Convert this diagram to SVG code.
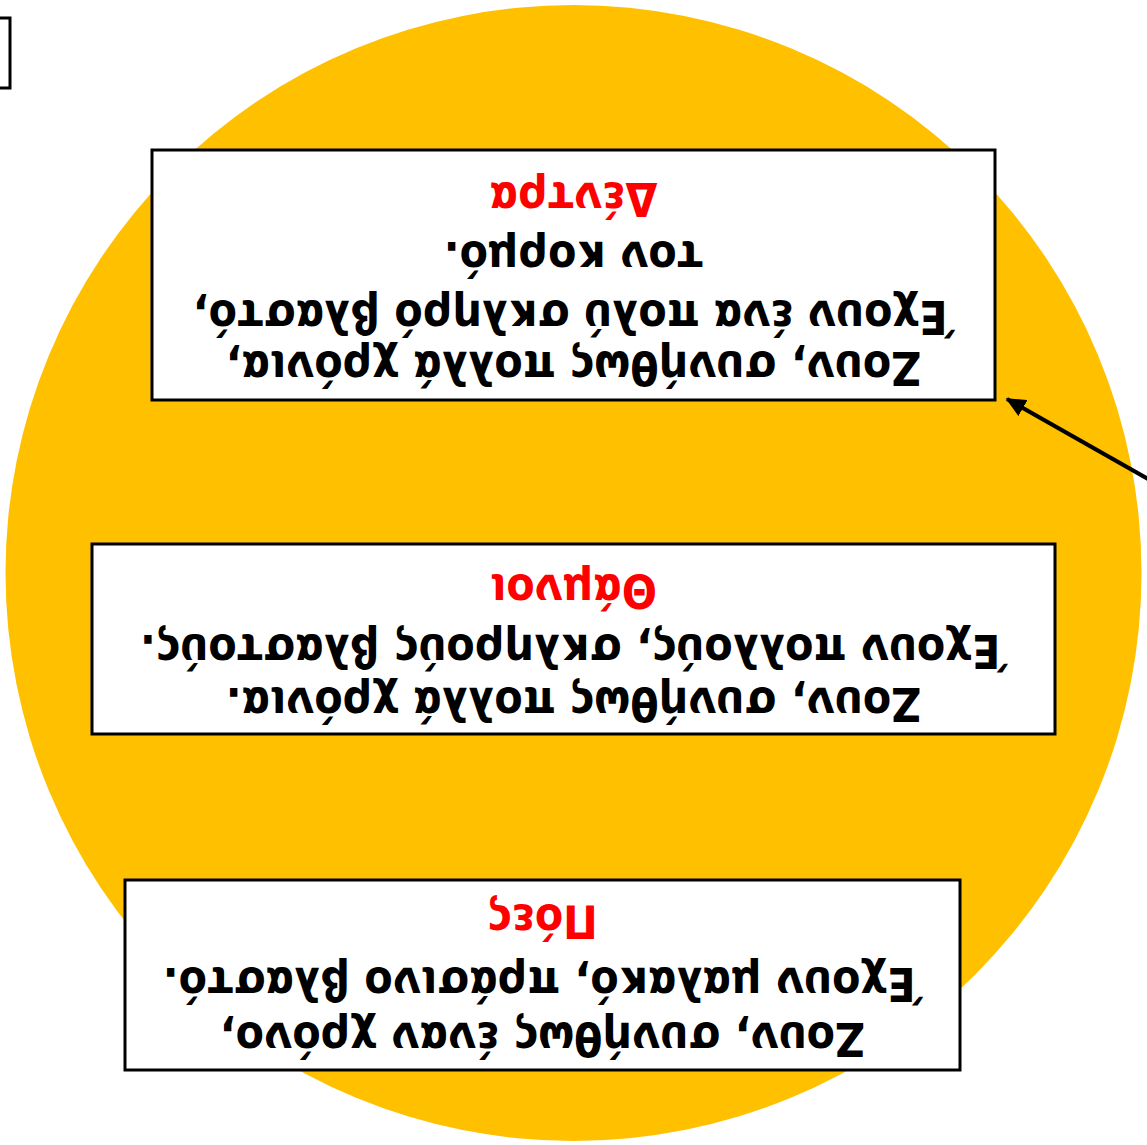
<svg xmlns="http://www.w3.org/2000/svg" width="1147" height="1145" viewBox="0 0 1147 1145">
<style>
.box{fill:#fff;stroke:#000;stroke-width:3}
.t{font-family:"DejaVu Sans Condensed","DejaVu Sans","Noto Sans",sans-serif;font-stretch:condensed;font-weight:bold;font-size:46px;text-anchor:middle;fill:#000}
.h{fill:#FF0000}
.conn{stroke:#000;stroke-width:4;fill:none}
</style>
<defs>
<marker id="ah" markerWidth="5" markerHeight="4.6" refX="4.6" refY="2.3" orient="auto" markerUnits="strokeWidth">
<path d="M0,0 L5,2.3 L0,4.6 Z" fill="#000"/>
</marker>
</defs>
<rect width="1147" height="1145" fill="#fff"/>
<g transform="rotate(180 573.5 572.5)">
<g id="background">
<circle cx="573.5" cy="572" r="568" fill="#FFC000"/>
</g>
<g id="corner-box">
<rect x="1137" y="1057" width="60" height="70" class="box"/>
</g>
<g id="connectors">
<line x1="-10" y1="661" x2="140" y2="746" class="conn" marker-end="url(#ah)"/>
</g>
<g id="node-trees">
<rect x="152" y="745" width="843" height="250" class="box"/>
<text class="t" x="573.5" y="793">Ζουν, συνήθως πολλά χρόνια,</text>
<text class="t" x="573.5" y="844">Έχουν ένα πολύ σκληρό βλαστό,</text>
<text class="t" x="573.5" y="903">τον κορμό.</text>
<text class="t h" x="573.5" y="962">Δέντρα</text>
</g>
<g id="node-shrubs">
<rect x="92" y="411" width="963" height="190" class="box"/>
<text class="t" x="573.5" y="457">Ζουν, συνήθως πολλά χρόνια.</text>
<text class="t" x="573.5" y="510">Έχουν πολλούς, σκληρούς βλαστούς.</text>
<text class="t h" x="573.5" y="570">Θάμνοι</text>
</g>
<g id="node-herbs">
<rect x="187" y="75" width="835" height="190" class="box"/>
<text class="t" x="604.5" y="122">Ζουν, συνήθως έναν χρόνο,</text>
<text class="t" x="604.5" y="177">Έχουν μαλακό, πράσινο βλαστό.</text>
<text class="t h" x="604.5" y="240">Πόες</text>
</g>
</g>
</svg>
